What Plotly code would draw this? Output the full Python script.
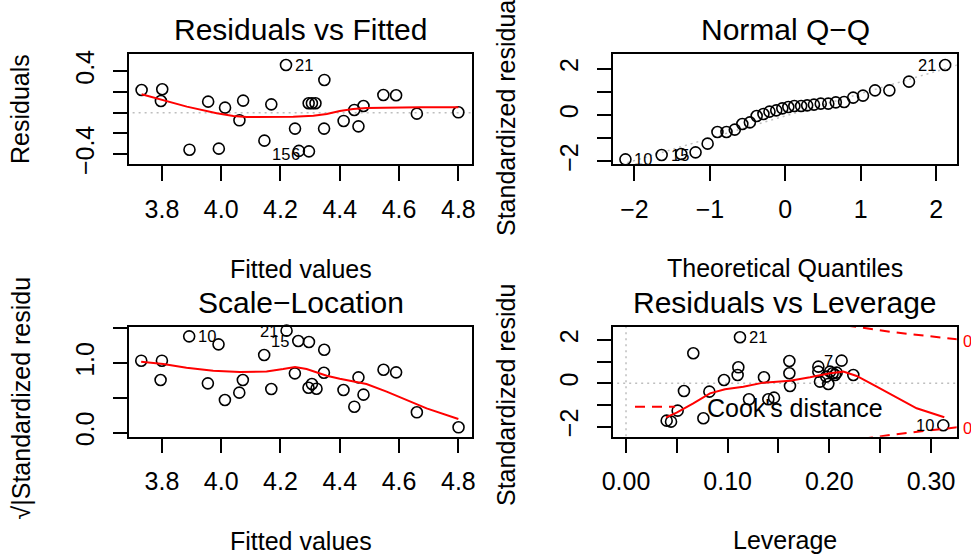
import plotly.graph_objects as go

W, H = 971, 555
FONT = "Liberation Sans, Arial, Helvetica, sans-serif"

# ---------------- data ----------------
# Panel 1: Residuals vs Fitted
fit1 = [3.7315, 3.8011, 3.7966, 3.893, 3.956, 3.992, 4.013, 4.0615, 4.074, 4.1457,
        4.169, 4.2186, 4.249, 4.262, 4.296, 4.295, 4.306, 4.318, 4.348, 4.347,
        4.413, 4.449, 4.463, 4.480, 4.547, 4.590, 4.660, 4.800]
res1 = [0.218, 0.225, 0.112, -0.357, 0.106, -0.347, 0.048, -0.074, 0.116, -0.270,
        0.080, 0.459, -0.154, -0.369, -0.373, 0.090, 0.090, 0.090, 0.315, -0.154,
        -0.080, 0.026, -0.132, 0.064, 0.170, 0.167, -0.010, 0.003]
smooth1_x = [3.7315, 3.794, 3.884, 3.985, 4.041, 4.086, 4.165, 4.243, 4.311, 4.356,
             4.400, 4.445, 4.490, 4.558, 4.670, 4.800]
smooth1_y = [0.177, 0.129, 0.058, -0.006, -0.032, -0.042, -0.042, -0.039, -0.029, -0.013,
             0.016, 0.035, 0.045, 0.048, 0.051, 0.051]

# Panel 2: Normal Q-Q
theo_q = [-2.12, -1.64, -1.38, -1.19, -1.03, -0.90, -0.78, -0.67, -0.57, -0.47,
          -0.38, -0.29, -0.21, -0.12, -0.04, 0.04, 0.12, 0.21, 0.29, 0.38,
          0.47, 0.57, 0.67, 0.78, 0.90, 1.03, 1.19, 1.38, 1.64, 2.12]
std_q = [-1.914, -1.727, -1.683, -1.612, -1.237, -0.734, -0.734, -0.633, -0.388, -0.317,
         -0.043, 0.043, 0.144, 0.201, 0.288, 0.345, 0.388, 0.388, 0.417, 0.446,
         0.489, 0.489, 0.547, 0.561, 0.748, 0.835, 1.065, 1.065, 1.439, 2.158]
qqline_x = [-2.4, 2.4]
qqline_y = [-2.35, 2.27]

# Panel 3: Scale-Location
fit3 = [3.7303, 3.800, 3.7955, 3.892, 3.955, 3.991, 4.0125, 4.061, 4.073, 4.145,
        4.169, 4.2205, 4.2485, 4.260, 4.296, 4.2945, 4.306, 4.3215, 4.3475, 4.3465,
        4.4125, 4.449, 4.463, 4.480, 4.5475, 4.590, 4.660, 4.8006]
sqrt_std = [1.036, 1.036, 0.758, 1.386, 0.710, 1.271, 0.470, 0.576, 0.758, 1.118,
            0.628, 1.468, 0.854, 1.319, 1.305, 0.647, 0.700, 0.633, 1.194, 0.863,
            0.614, 0.374, 0.796, 0.547, 0.906, 0.868, 0.293, 0.077]
smooth3_x = [3.730, 3.8045, 3.883, 3.973, 4.063, 4.153, 4.209, 4.249, 4.288, 4.322,
             4.356, 4.400, 4.445, 4.490, 4.558, 4.625, 4.693, 4.800]
smooth3_y = [1.022, 0.988, 0.935, 0.892, 0.873, 0.882, 0.916, 0.945, 0.916, 0.863,
             0.820, 0.777, 0.743, 0.700, 0.590, 0.470, 0.350, 0.197]

# Panel 4: Residuals vs Leverage
lev = [0.0400, 0.0443, 0.0508, 0.0570, 0.0662, 0.0761, 0.0820, 0.0964, 0.1105, 0.1098,
       0.1121, 0.1210, 0.1357, 0.1400, 0.1456, 0.1607, 0.1607, 0.1613, 0.1892, 0.1892,
       0.1908, 0.1990, 0.2007, 0.2033, 0.2056, 0.2072, 0.2121, 0.2236, 0.1970, 0.3121]
std_l = [-1.723, -1.769, -1.262, -0.354, 1.385, -1.615, -0.385, 0.154, 0.738, 0.385,
         2.123, -0.738, 0.277, -0.738, -0.662, 1.031, 0.462, -0.123, 0.769, 0.538,
         0.077, -0.031, 0.538, 0.462, 0.385, 0.492, 1.046, 0.385, 0.308, -1.938]
smooth4_x = [0.0393, 0.0498, 0.0662, 0.0826, 0.0974, 0.1154, 0.1351, 0.1613, 0.1810, 0.2007,
             0.2138, 0.2269, 0.2466, 0.2662, 0.2859, 0.3131]
smooth4_y = [-1.569, -1.354, -0.923, -0.462, -0.277, -0.154, 0.031, 0.123, 0.277, 0.462,
             0.538, 0.338, -0.154, -0.646, -1.154, -1.569]
cook_h = [0.20, 0.22, 0.24, 0.26, 0.28, 0.30, 0.326]
cook_up = [2.78, 2.64, 2.50, 2.38, 2.27, 2.16, 2.03]
cook_lo = [-2.78, -2.64, -2.50, -2.38, -2.27, -2.16, -2.03]

# tick labels
x13_ticks = [3.8, 4.0, 4.2, 4.4, 4.6, 4.8]
x13_text = ["3.8", "4.0", "4.2", "4.4", "4.6", "4.8"]
y1_ticks = [-0.4, -0.2, 0.0, 0.2, 0.4]
y1_text = ["\u22120.4", "", "", "", "0.4"]
x2_ticks = [-2, -1, 0, 1, 2]
x2_text = ["\u22122", "\u22121", "0", "1", "2"]
y24_ticks = [-2, -1, 0, 1, 2]
y24_text = ["\u22122", "", "0", "", "2"]
y3_ticks = [0.0, 0.5, 1.0, 1.5]
y3_text = ["0.0", "", "1.0", ""]
x4_ticks = [0.0, 0.05, 0.10, 0.15, 0.20, 0.25, 0.30]
x4_text = ["0.00", "", "0.10", "", "0.20", "", "0.30"]

# ---------------- geometry (pixels) ----------------
L1, R1 = 129.3, 471.7
L2, R2 = 613.3, 956.7
T1, B1 = 54.0, 164.0
T2, B2 = 326.7, 436.7


def pxx(x):
    return x / W


def pxy(y):
    return 1 - y / H


fig = go.Figure()
marker = dict(symbol="circle-open", size=11, color="black", line=dict(width=1.6, color="black"))
gray = dict(color="#BEBEBE", width=1.5, dash="2px,4px")
red = dict(color="#FF0000", width=2)

# panel 1
fig.add_trace(go.Scatter(x=[3.6, 4.9], y=[0, 0], mode="lines", line=gray, xaxis="x", yaxis="y"))
fig.add_trace(go.Scatter(x=fit1, y=res1, mode="markers", marker=marker, cliponaxis=False, xaxis="x", yaxis="y"))
fig.add_trace(go.Scatter(x=smooth1_x, y=smooth1_y, mode="lines", line=red, xaxis="x", yaxis="y"))
# panel 2
fig.add_trace(go.Scatter(x=qqline_x, y=qqline_y, mode="lines", line=gray, xaxis="x2", yaxis="y2"))
fig.add_trace(go.Scatter(x=theo_q, y=std_q, mode="markers", marker=marker, cliponaxis=False, xaxis="x2", yaxis="y2"))
# panel 3
fig.add_trace(go.Scatter(x=fit3, y=sqrt_std, mode="markers", marker=marker, cliponaxis=False, xaxis="x3", yaxis="y3"))
fig.add_trace(go.Scatter(x=smooth3_x, y=smooth3_y, mode="lines", line=red, xaxis="x3", yaxis="y3"))
# panel 4
fig.add_trace(go.Scatter(x=[-0.05, 0.4], y=[0, 0], mode="lines", line=gray, xaxis="x4", yaxis="y4"))
fig.add_trace(go.Scatter(x=[0, 0], y=[-3, 3], mode="lines", line=gray, xaxis="x4", yaxis="y4"))
fig.add_trace(go.Scatter(x=lev, y=std_l, mode="markers", marker=marker, cliponaxis=False, xaxis="x4", yaxis="y4"))
fig.add_trace(go.Scatter(x=smooth4_x, y=smooth4_y, mode="lines", line=red, xaxis="x4", yaxis="y4"))
dash_red = dict(color="#FF0000", width=2, dash="10px,7px")
fig.add_trace(go.Scatter(x=cook_h, y=cook_up, mode="lines", line=dash_red, xaxis="x4", yaxis="y4"))
fig.add_trace(go.Scatter(x=cook_h, y=cook_lo, mode="lines", line=dash_red, xaxis="x4", yaxis="y4"))


def axis(domain, rng, tickvals, ticktext, anchor, is_y=False):
    d = dict(domain=domain, range=rng, tickvals=tickvals, ticktext=ticktext, anchor=anchor,
             showline=True, mirror=True, linecolor="black", linewidth=1.5,
             ticks="outside", ticklen=15, tickwidth=1.5, tickcolor="black",
             showgrid=False, zeroline=False, automargin=False,
             tickfont=dict(family=FONT, size=25, color="black"),
             ticklabelstandoff=9 if is_y else 7)
    if is_y:
        d["tickangle"] = -90
    return d


fig.update_layout(
    width=W, height=H, margin=dict(l=0, r=0, t=0, b=0, autoexpand=False),
    paper_bgcolor="white", plot_bgcolor="white", showlegend=False,
    font=dict(family=FONT, color="black"),
    xaxis=axis([pxx(L1), pxx(R1)], [3.690, 4.845], x13_ticks, x13_text, "y"),
    yaxis=axis([pxy(B1), pxy(T1)], [-0.495, 0.565], y1_ticks, y1_text, "x", True),
    xaxis2=axis([pxx(L2), pxx(R2)], [-2.281, 2.273], x2_ticks, x2_text, "y2"),
    yaxis2=axis([pxy(B1), pxy(T1)], [-2.115, 2.633], y24_ticks, y24_text, "x2", True),
    xaxis3=axis([pxx(L1), pxx(R1)], [3.690, 4.845], x13_ticks, x13_text, "y3"),
    yaxis3=axis([pxy(B2), pxy(T2)], [-0.058, 1.525], y3_ticks, y3_text, "x3", True),
    xaxis4=axis([pxx(L2), pxx(R2)], [-0.0125, 0.3253], x4_ticks, x4_text, "y4"),
    yaxis4=axis([pxy(B2), pxy(T2)], [-2.464, 2.612], y24_ticks, y24_text, "x4", True),
)

ann = []


def txt(text, x, y, size, angle=0, xa="center", ya="middle", color="black"):
    ann.append(dict(text=text, x=pxx(x), y=pxy(y), xref="paper", yref="paper",
                    xanchor=xa, yanchor=ya, showarrow=False, textangle=angle,
                    font=dict(family=FONT, size=size, color=color)))


# titles
txt("Residuals vs Fitted", 300.5, 29.7, 30)
txt("Normal Q\u2212Q", 785, 29.7, 30)
txt("Scale\u2212Location", 300.5, 302, 30)
txt("Residuals vs Leverage", 785, 302, 30)
# x labels
txt("Fitted values", 300.5, 269, 25)
txt("Theoretical Quantiles", 785, 268, 25)
txt("Fitted values", 300.5, 541, 25)
txt("Leverage", 785, 540, 25)
# y labels
txt("Residuals", 20, 109, 25, angle=-90)
txt("Standardized residuals", 506, 109, 25, angle=-90)
txt("\u221a|Standardized residu", 20, 522, 25, angle=-90, ya="bottom")
txt("Standardized residu", 506, 508, 25, angle=-90, ya="bottom")
# legend for Cook's distance
fig.add_shape(type="line", xref="paper", yref="paper", x0=pxx(635), x1=pxx(675),
              y0=pxy(406.7), y1=pxy(406.7), line=dash_red)
txt("Cook's distance", 705, 408, 25, xa="left")
# cook levels at right margin
txt("0.5", 961, 340.7, 16.5, xa="left", color="#FF0000")
txt("0.5", 961, 427.5, 16.5, xa="left", color="#FF0000")


def idlab(text, x, y, xr, yr, side):
    ann.append(dict(text=text, x=x, y=y, xref=xr, yref=yr, showarrow=False,
                    xanchor="left" if side == "r" else "right", yanchor="middle",
                    xshift=7 if side == "r" else -7,
                    font=dict(family=FONT, size=16.5, color="black")))


idlab("21", fit1[11], res1[11], "x", "y", "r")
idlab("15", fit1[13], res1[13] - 0.03, "x", "y", "l")
idlab("6", fit1[14], res1[14] - 0.03, "x", "y", "l")
idlab("10", theo_q[0], std_q[0], "x2", "y2", "r")
idlab("15", theo_q[1], std_q[1], "x2", "y2", "r")
idlab("21", theo_q[29], std_q[29], "x2", "y2", "l")
idlab("10", fit3[3], sqrt_std[3], "x3", "y3", "r")
idlab("21", fit3[11], sqrt_std[11], "x3", "y3", "l")
idlab("15", fit3[13], sqrt_std[13], "x3", "y3", "l")
idlab("21", lev[10], std_l[10], "x4", "y4", "r")
idlab("7", lev[26], std_l[26], "x4", "y4", "l")
idlab("10", lev[29], std_l[29], "x4", "y4", "l")

fig.update_layout(annotations=ann)
fig.write_html("out.html")
